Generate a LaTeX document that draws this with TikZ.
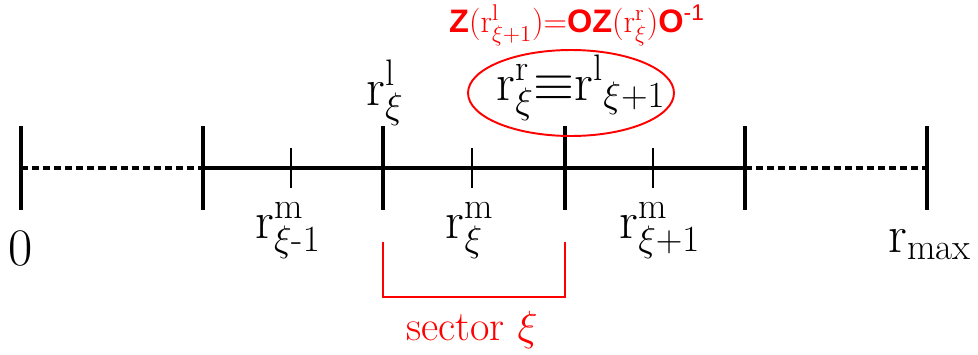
\RequirePackage{fix-cm}
\documentclass[tikz,border=0pt]{standalone}
\usepackage{amsmath}
\usepackage{fontspec}
\newfontfamily\opfont{Liberation Sans}
\usetikzlibrary{shapes.geometric}
\newcommand{\rsym}{\mathrm{r}}

\begin{document}
\begin{tikzpicture}[x=0.02cm,y=-0.02cm,
  major/.style={line width=2.3pt},
  minor/.style={line width=1.7pt},
  axis/.style={line width=1.9pt},
  dots/.style={axis,dash pattern=on 4pt off 2.3pt},
  lbl/.style={font=\fontsize{30}{36}\selectfont,inner sep=0pt,anchor=base},
  sector/.style={red,line width=1.7pt}]
\useasboundingbox (0,0) rectangle (978,355);
% boundaries and midpoints on the r axis
\coordinate (b0) at (21,168);
\coordinate (b1) at (203,168);
\coordinate (b2) at (383,168);
\coordinate (b3) at (565,168);
\coordinate (b4) at (745,168);
\coordinate (b5) at (927,168);
\coordinate (m1) at (291,168);
\coordinate (m2) at (472,168);
\coordinate (m3) at (653,168);
\draw[dots] (b0) -- (b1);
\draw[axis] (b1) -- (b4);
\draw[dots] (b4) -- (b5);
\foreach \t in {b0,b1,b2,b3,b4,b5}
  \draw[major] (\t) ++(0,-42) -- ++(0,84);
\foreach \t in {m1,m2,m3}
  \draw[minor] (\t) ++(0,-20) -- ++(0,40);
% labels
\node[lbl] (zero) at (21,265) {$0$};
\node[lbl] (rmprev) at (288,238) {$\rsym^{\rm m}_{\xi\text{-}1}$};
\node[lbl] (rmcur) at (470,238) {$\rsym^{\rm m}_{\xi}$};
\node[lbl] (rmnext) at (660,238) {$\rsym^{\rm m}_{\xi+1}$};
\node[lbl] (rmax) at (930,252) {$\rsym_{\rm max}$};
\node[lbl] (rleft) at (385,105) {$\rsym^{\rm l}_{\xi}$};
\node[draw=red,ellipse,line width=1.1pt,minimum width=4.12cm,minimum height=1.72cm] (join) at (571,93) {};
\node[lbl] (joinlbl) at (581,100) {$\rsym^{\rm r}_{\xi}\mathord{\equiv}\rsym^{\rm l}{}_{\xi+1}$};
\node[red,inner sep=0pt,font=\fontsize{18.5}{22}\selectfont] (rule) at (577,25)
  {{\opfont\bfseries Z}($\rsym^{\rm l}_{\xi+1}$)={\opfont\bfseries OZ}($\rsym^{\rm r}_{\xi}$){\opfont\bfseries O}\textsuperscript{\opfont -1}};
% sector bracket
\coordinate (sl) at (383,242);
\coordinate (sr) at (565,242);
\draw[sector] (sl) -- ++(0,55) -| (sr);
\node[lbl,red,font=\fontsize{24}{29}\selectfont] (seclbl) at (472,340) {sector $\xi$};
\end{tikzpicture}
\end{document}
